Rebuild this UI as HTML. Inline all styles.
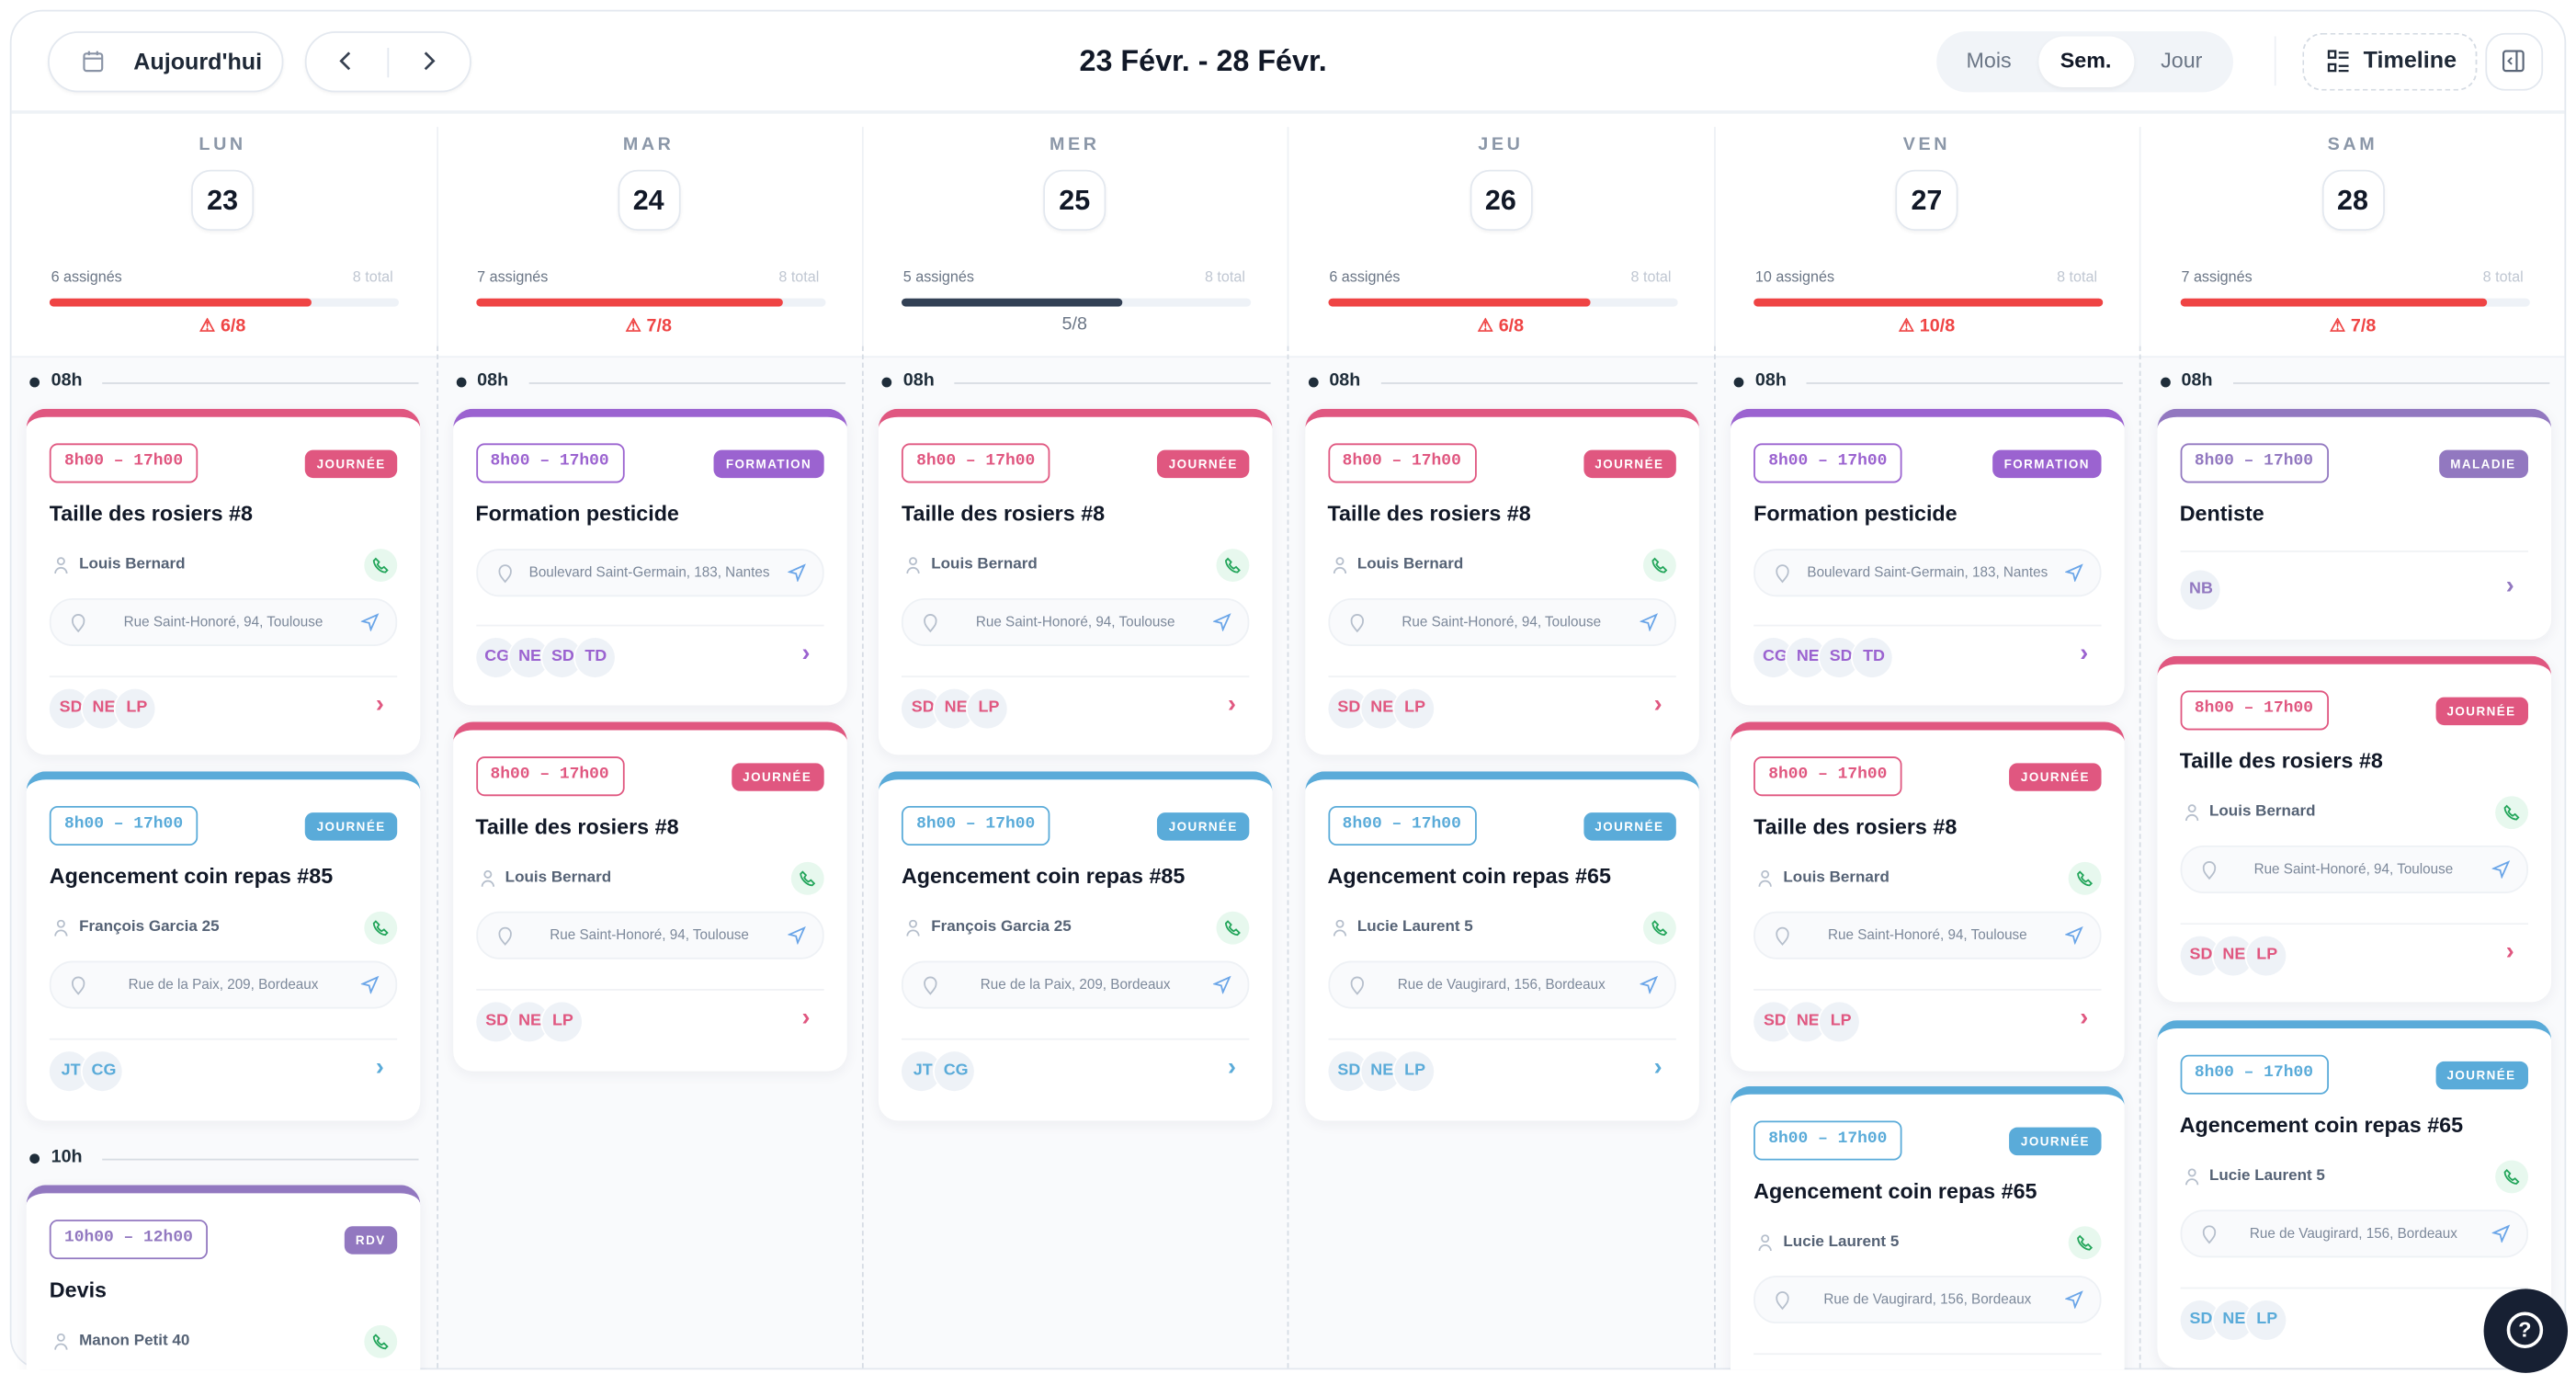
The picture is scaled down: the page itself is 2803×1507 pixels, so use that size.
<!DOCTYPE html>
<html><head><meta charset="utf-8">
<style>
*{box-sizing:border-box;margin:0;padding:0}
html,body{width:2803px;height:1507px;overflow:hidden;background:#fff;font-family:"Liberation Sans",sans-serif}
#w{position:absolute;left:0;top:0;width:1563px;height:840px;overflow:hidden;transform:scale(1.79335);transform-origin:0 0}
.abs{position:absolute}
.frame{position:absolute;left:6px;top:6px;width:1551px;height:825px;border:1px solid #e3e8ef;border-radius:20px;overflow:hidden;background:#fff}
.btn{position:absolute;top:19px;height:37px;border:1px solid #e3e8ef;border-radius:19px;background:#fff;box-shadow:0 1px 2px rgba(0,0,0,.05)}
.tb{position:absolute;left:0;right:0;top:0;height:62px;border-bottom:2px solid #eef2f6}
.body{position:absolute;left:0;right:0;top:209px;bottom:0;background:#f9fafc;border-top:1px solid #eef2f6}
.dn{position:absolute;width:258px;text-align:center;top:77px;font-size:11px;font-weight:bold;color:#8b97a8;letter-spacing:2px}
.dd{position:absolute;top:97px;width:38px;height:37px;border:1px solid #e3e8ef;border-radius:12px;text-align:center;line-height:36px;font-size:17px;font-weight:bold;color:#111827;box-shadow:0 1px 2px rgba(0,0,0,.05)}
.as{position:absolute;top:157px;font-size:9px;color:#6b7686}
.tt{position:absolute;top:157px;font-size:9px;color:#c0c7d2}
.bar{position:absolute;top:175px;height:5px;width:212px;border-radius:3px;background:#eef2f7;overflow:hidden}
.bar i{display:block;height:100%;background:#ef4444;border-radius:3px}
.wr{position:absolute;top:185px;width:258px;text-align:center;font-size:11px;font-weight:bold;color:#ef4444}
.vs{position:absolute;top:77px;height:135px;border-left:1px solid #eef1f5}
.vd{position:absolute;top:210px;border-left:1px dashed #d6dce4}
.hr{position:absolute;height:14px;font-size:11px;font-weight:bold;color:#1f2d3a}
.hr b{position:absolute;left:0;top:4px;width:6px;height:6px;border-radius:3px;background:#1f2d3a}
.hr span{position:absolute;left:13px;top:0}
.hr em{position:absolute;left:44px;right:0;top:7px;border-top:1px solid #d7dce3}
.card{position:absolute;width:239px;background:#fff;border-radius:12px;border-top:5px solid;box-shadow:0 2px 8px rgba(30,40,60,.06)}
.pk{border-color:#e05780;color:#e05780}.pu{border-color:#9b63d0;color:#9b63d0}.bl{border-color:#5aabd9;color:#5aabd9}.mv{border-color:#9278c0;color:#9278c0}
.tm{position:absolute;left:14px;top:16px;height:24px;padding:0 8px;border:1.5px solid;border-radius:5px;font-family:"Liberation Mono",monospace;font-size:10px;font-weight:bold;line-height:21px}
.bd{position:absolute;right:14px;top:20px;height:17px;padding:0 7px;border-radius:5px;font-size:7.5px;font-weight:bold;line-height:17px;letter-spacing:.8px;color:#fff}
.pk .bd{background:#e05780}.pu .bd{background:#9b63d0}.bl .bd{background:#5aabd9}.mv .bd{background:#9278c0}
.ti{position:absolute;left:14px;top:51px;font-size:13px;font-weight:bold;color:#111827}
.pr{position:absolute;left:14px;right:14px;top:80px;height:20px;font-size:9.5px;font-weight:bold;color:#556275;line-height:20px;padding-left:18px}
.pr .pi{position:absolute;left:3px;top:5px;width:8px;height:10px}
.ph{position:absolute;right:0;top:0;width:20px;height:20px;border-radius:10px;background:#e7f8ee}
.ph svg{position:absolute;left:5px;top:5px}
.ad{position:absolute;left:14px;right:14px;height:29px;border:1px solid #eef1f5;border-radius:14px;background:#f9fafc;font-size:8.5px;color:#7c889a;line-height:27px;text-align:center}
.ad svg{position:absolute;top:8px}
.sep{position:absolute;left:14px;right:14px;border-top:1px solid #f0f2f5}
.av{position:absolute;left:14px;height:24px}
.av span{float:left;width:24px;height:24px;border-radius:12px;background:#eef2f7;margin-right:-4px;font-size:10px;font-weight:bold;line-height:24px;text-align:center;overflow:hidden;position:relative;white-space:nowrap;text-indent:2px;box-shadow:-1px 0 0 #fff}
.ch{position:absolute;right:22px;font-size:15px;font-weight:bold}
</style></head><body><div id="w">
<div class="frame">
 <div class="tb"></div>
 <div class="body"></div>
</div>
<div class="btn" style="left:29px;width:143px"></div>
<svg class="abs" style="left:50px;top:30px" width="13" height="14" viewBox="0 0 13 14"><rect x="1" y="2.5" width="11" height="10.5" rx="1.5" fill="none" stroke="#8a94a6" stroke-width="1.2"/><line x1="1" y1="5.5" x2="12" y2="5.5" stroke="#8a94a6" stroke-width="1.2"/><line x1="4" y1="1" x2="4" y2="3.5" stroke="#8a94a6" stroke-width="1.2"/><line x1="9" y1="1" x2="9" y2="3.5" stroke="#8a94a6" stroke-width="1.2"/></svg>
<div class="abs" style="left:81px;top:29px;font-size:14px;font-weight:bold;color:#1f2937">Aujourd'hui</div>
<div class="btn" style="left:185px;width:101px"></div>
<div class="abs" style="left:235px;top:29px;height:18px;border-left:1px solid #e3e8ef"></div>
<svg class="abs" style="left:205px;top:31px" width="10" height="12"><polyline points="7,1 2,6 7,11" fill="none" stroke="#374151" stroke-width="1.5"/></svg>
<svg class="abs" style="left:255px;top:31px" width="10" height="12"><polyline points="3,1 8,6 3,11" fill="none" stroke="#374151" stroke-width="1.5"/></svg>
<div class="abs" style="left:560px;width:340px;text-align:center;top:27px;font-size:18px;font-weight:bold;color:#111827">23 Févr. - 28 Févr.</div>
<div class="abs" style="left:1175px;top:19px;width:180px;height:37px;border-radius:19px;background:#f1f4f8"></div>
<div class="abs" style="left:1237px;top:22px;width:58px;height:31px;border-radius:16px;background:#fff;box-shadow:0 1px 3px rgba(0,0,0,.06)"></div>
<div class="abs" style="left:1193px;top:29px;font-size:13px;color:#6b7686">Mois</div>
<div class="abs" style="left:1250px;top:29px;font-size:13px;font-weight:bold;color:#111827">Sem.</div>
<div class="abs" style="left:1311px;top:29px;font-size:13px;color:#6b7686">Jour</div>
<div class="abs" style="left:1380px;top:22px;height:30px;border-left:1px solid #eef1f5"></div>
<div class="abs" style="left:1397px;top:20px;width:106px;height:35px;border:1px dashed #d5dbe3;border-radius:12px"></div>
<svg class="abs" style="left:1412px;top:30px" width="14" height="14"><rect x="1" y="1" width="4" height="4" fill="none" stroke="#1f2937" stroke-width="1.3"/><rect x="1" y="9" width="4" height="4" fill="none" stroke="#1f2937" stroke-width="1.3"/><line x1="7" y1="2" x2="13" y2="2" stroke="#1f2937" stroke-width="1.3"/><line x1="7" y1="5" x2="13" y2="5" stroke="#1f2937" stroke-width="1.3"/><line x1="7" y1="10" x2="13" y2="10" stroke="#1f2937" stroke-width="1.3"/><line x1="7" y1="13" x2="13" y2="13" stroke="#1f2937" stroke-width="1.3"/></svg>
<div class="abs" style="left:1434px;top:28px;font-size:14px;font-weight:bold;color:#1f2937">Timeline</div>
<div class="abs" style="left:1508px;top:20px;width:35px;height:35px;border:1px solid #e3e8ef;border-radius:12px"></div>
<svg class="abs" style="left:1518px;top:30px" width="14" height="14"><rect x="1" y="1" width="12" height="12" rx="1.5" fill="none" stroke="#5a6678" stroke-width="1.2"/><line x1="9" y1="1" x2="9" y2="13" stroke="#5a6678" stroke-width="1.2"/><polyline points="6,5 4,7 6,9" fill="none" stroke="#5a6678" stroke-width="1.1"/></svg>

<div class="dn" style="left:6px;top:82px">LUN</div><div class="dd" style="left:116px;top:103px">23</div>
<div class="dn" style="left:264.5px;top:82px">MAR</div><div class="dd" style="left:374.5px;top:103px">24</div>
<div class="dn" style="left:523px;top:82px">MER</div><div class="dd" style="left:633px;top:103px">25</div>
<div class="dn" style="left:781.5px;top:82px">JEU</div><div class="dd" style="left:891.5px;top:103px">26</div>
<div class="dn" style="left:1040px;top:82px">VEN</div><div class="dd" style="left:1150px;top:103px">27</div>
<div class="dn" style="left:1298.5px;top:82px">SAM</div><div class="dd" style="left:1408.5px;top:103px">28</div>

<div class="as" style="left:31px;top:163px">6 assignés</div><div class="tt" style="left:214px;top:163px">8 total</div>
<div class="bar" style="left:30px;top:181px"><i style="width:75%"></i></div>
<div class="wr" style="left:6px;top:191px">⚠ 6/8</div>
<div class="as" style="left:289.5px;top:163px">7 assignés</div><div class="tt" style="left:472.5px;top:163px">8 total</div>
<div class="bar" style="left:288.5px;top:181px"><i style="width:88%"></i></div>
<div class="wr" style="left:264.5px;top:191px">⚠ 7/8</div>
<div class="as" style="left:548px;top:163px">5 assignés</div><div class="tt" style="left:731px;top:163px">8 total</div>
<div class="bar" style="left:547px;top:181px"><i style="width:63%;background:#334155"></i></div>
<div class="wr" style="left:523px;top:191px;color:#6b7686;font-weight:normal">5/8</div>
<div class="as" style="left:806.5px;top:163px">6 assignés</div><div class="tt" style="left:989.5px;top:163px">8 total</div>
<div class="bar" style="left:805.5px;top:181px"><i style="width:75%"></i></div>
<div class="wr" style="left:781.5px;top:191px">⚠ 6/8</div>
<div class="as" style="left:1065px;top:163px">10 assignés</div><div class="tt" style="left:1248px;top:163px">8 total</div>
<div class="bar" style="left:1064px;top:181px"><i style="width:100%"></i></div>
<div class="wr" style="left:1040px;top:191px">⚠ 10/8</div>
<div class="as" style="left:1323.5px;top:163px">7 assignés</div><div class="tt" style="left:1506.5px;top:163px">8 total</div>
<div class="bar" style="left:1322.5px;top:181px"><i style="width:88%"></i></div>
<div class="wr" style="left:1298.5px;top:191px">⚠ 7/8</div>

<div class="vs" style="left:265px"></div><div class="vs" style="left:523px"></div><div class="vs" style="left:781px"></div><div class="vs" style="left:1040px"></div><div class="vs" style="left:1298px"></div>
<div class="vd" style="left:265px;height:620px"></div><div class="vd" style="left:523px;height:620px"></div><div class="vd" style="left:781px;height:620px"></div><div class="vd" style="left:1040px;height:620px"></div><div class="vd" style="left:1298px;height:620px"></div>

<div class="hr" style="left:18px;top:225px;width:236px"><b></b><span>08h</span><em></em></div>
<div class="hr" style="left:276.5px;top:225px;width:236px"><b></b><span>08h</span><em></em></div>
<div class="hr" style="left:535px;top:225px;width:236px"><b></b><span>08h</span><em></em></div>
<div class="hr" style="left:793.5px;top:225px;width:236px"><b></b><span>08h</span><em></em></div>
<div class="hr" style="left:1052px;top:225px;width:236px"><b></b><span>08h</span><em></em></div>
<div class="hr" style="left:1310.5px;top:225px;width:236px"><b></b><span>08h</span><em></em></div>
<div class="hr" style="left:18px;top:696px;width:236px"><b></b><span>10h</span><em></em></div>

<div class="abs" style="left:0;top:0;width:1563px;height:831px;overflow:hidden">

<div class="card pk" style="left:16px;top:248px;height:210px"><div class="tm">8h00 – 17h00</div><div class="bd">JOURNÉE</div><div class="ti">Taille des rosiers #8</div>
<div class="pr"><svg class="pi" viewBox="0 0 8 10"><circle cx="4" cy="2.5" r="2" fill="none" stroke="#b6bfcc"/><path d="M.5 10a3.5 3.5 0 0 1 7 0" fill="none" stroke="#b6bfcc"/></svg>Louis Bernard<span class="ph"><svg width="10" height="10" viewBox="0 0 10 10"><path d="M2 1l2 2-1 1.5c.7 1.2 1.3 1.8 2.5 2.5L7 6l2 2-1.2 1.2C4.5 9 1 5.5.8 2.2z" fill="none" stroke="#22a55a" stroke-width="1"/></svg></span></div>
<div class="ad" style="top:110px"><svg style="left:12px" width="9" height="12"><path d="M4.5 11C1 7 1 6 1 4.5a3.5 3.5 0 0 1 7 0C8 6 8 7 4.5 11z" fill="none" stroke="#b6bfcc"/></svg>Rue Saint-Honoré, 94, Toulouse<svg style="right:10px" width="11" height="11"><path d="M10 1L1 5l4 1 1 4z" fill="none" stroke="#6aa5e8"/></svg></div>
<div class="sep" style="top:157px"></div><div class="av" style="top:165px"><span>SD</span><span>NE</span><span>LP</span></div><div class="ch" style="top:166px">›</div></div>

<div class="card bl" style="left:16px;top:468px;height:212px"><div class="tm">8h00 – 17h00</div><div class="bd">JOURNÉE</div><div class="ti">Agencement coin repas #85</div>
<div class="pr"><svg class="pi" viewBox="0 0 8 10"><circle cx="4" cy="2.5" r="2" fill="none" stroke="#b6bfcc"/><path d="M.5 10a3.5 3.5 0 0 1 7 0" fill="none" stroke="#b6bfcc"/></svg>François Garcia 25<span class="ph"><svg width="10" height="10" viewBox="0 0 10 10"><path d="M2 1l2 2-1 1.5c.7 1.2 1.3 1.8 2.5 2.5L7 6l2 2-1.2 1.2C4.5 9 1 5.5.8 2.2z" fill="none" stroke="#22a55a" stroke-width="1"/></svg></span></div>
<div class="ad" style="top:110px"><svg style="left:12px" width="9" height="12"><path d="M4.5 11C1 7 1 6 1 4.5a3.5 3.5 0 0 1 7 0C8 6 8 7 4.5 11z" fill="none" stroke="#b6bfcc"/></svg>Rue de la Paix, 209, Bordeaux<svg style="right:10px" width="11" height="11"><path d="M10 1L1 5l4 1 1 4z" fill="none" stroke="#6aa5e8"/></svg></div>
<div class="sep" style="top:157px"></div><div class="av" style="top:165px"><span>JT</span><span>CG</span></div><div class="ch" style="top:166px">›</div></div>

<div class="card mv" style="left:16px;top:719px;height:210px"><div class="tm">10h00 – 12h00</div><div class="bd">RDV</div><div class="ti">Devis</div>
<div class="pr"><svg class="pi" viewBox="0 0 8 10"><circle cx="4" cy="2.5" r="2" fill="none" stroke="#b6bfcc"/><path d="M.5 10a3.5 3.5 0 0 1 7 0" fill="none" stroke="#b6bfcc"/></svg>Manon Petit 40<span class="ph"><svg width="10" height="10" viewBox="0 0 10 10"><path d="M2 1l2 2-1 1.5c.7 1.2 1.3 1.8 2.5 2.5L7 6l2 2-1.2 1.2C4.5 9 1 5.5.8 2.2z" fill="none" stroke="#22a55a" stroke-width="1"/></svg></span></div></div>

<div class="card pu" style="left:274.5px;top:248px;height:180px"><div class="tm">8h00 – 17h00</div><div class="bd">FORMATION</div><div class="ti">Formation pesticide</div>
<div class="ad" style="top:80px"><svg style="left:12px" width="9" height="12"><path d="M4.5 11C1 7 1 6 1 4.5a3.5 3.5 0 0 1 7 0C8 6 8 7 4.5 11z" fill="none" stroke="#b6bfcc"/></svg>Boulevard Saint-Germain, 183, Nantes<svg style="right:10px" width="11" height="11"><path d="M10 1L1 5l4 1 1 4z" fill="none" stroke="#6aa5e8"/></svg></div>
<div class="sep" style="top:126px"></div><div class="av" style="top:134px"><span>CG</span><span>NE</span><span>SD</span><span>TD</span></div><div class="ch" style="top:135px">›</div></div>

<div class="card pk" style="left:274.5px;top:438px;height:212px"><div class="tm">8h00 – 17h00</div><div class="bd">JOURNÉE</div><div class="ti">Taille des rosiers #8</div>
<div class="pr"><svg class="pi" viewBox="0 0 8 10"><circle cx="4" cy="2.5" r="2" fill="none" stroke="#b6bfcc"/><path d="M.5 10a3.5 3.5 0 0 1 7 0" fill="none" stroke="#b6bfcc"/></svg>Louis Bernard<span class="ph"><svg width="10" height="10" viewBox="0 0 10 10"><path d="M2 1l2 2-1 1.5c.7 1.2 1.3 1.8 2.5 2.5L7 6l2 2-1.2 1.2C4.5 9 1 5.5.8 2.2z" fill="none" stroke="#22a55a" stroke-width="1"/></svg></span></div>
<div class="ad" style="top:110px"><svg style="left:12px" width="9" height="12"><path d="M4.5 11C1 7 1 6 1 4.5a3.5 3.5 0 0 1 7 0C8 6 8 7 4.5 11z" fill="none" stroke="#b6bfcc"/></svg>Rue Saint-Honoré, 94, Toulouse<svg style="right:10px" width="11" height="11"><path d="M10 1L1 5l4 1 1 4z" fill="none" stroke="#6aa5e8"/></svg></div>
<div class="sep" style="top:157px"></div><div class="av" style="top:165px"><span>SD</span><span>NE</span><span>LP</span></div><div class="ch" style="top:166px">›</div></div>

<div class="card pk" style="left:533px;top:248px;height:210px"><div class="tm">8h00 – 17h00</div><div class="bd">JOURNÉE</div><div class="ti">Taille des rosiers #8</div>
<div class="pr"><svg class="pi" viewBox="0 0 8 10"><circle cx="4" cy="2.5" r="2" fill="none" stroke="#b6bfcc"/><path d="M.5 10a3.5 3.5 0 0 1 7 0" fill="none" stroke="#b6bfcc"/></svg>Louis Bernard<span class="ph"><svg width="10" height="10" viewBox="0 0 10 10"><path d="M2 1l2 2-1 1.5c.7 1.2 1.3 1.8 2.5 2.5L7 6l2 2-1.2 1.2C4.5 9 1 5.5.8 2.2z" fill="none" stroke="#22a55a" stroke-width="1"/></svg></span></div>
<div class="ad" style="top:110px"><svg style="left:12px" width="9" height="12"><path d="M4.5 11C1 7 1 6 1 4.5a3.5 3.5 0 0 1 7 0C8 6 8 7 4.5 11z" fill="none" stroke="#b6bfcc"/></svg>Rue Saint-Honoré, 94, Toulouse<svg style="right:10px" width="11" height="11"><path d="M10 1L1 5l4 1 1 4z" fill="none" stroke="#6aa5e8"/></svg></div>
<div class="sep" style="top:157px"></div><div class="av" style="top:165px"><span>SD</span><span>NE</span><span>LP</span></div><div class="ch" style="top:166px">›</div></div>

<div class="card bl" style="left:533px;top:468px;height:212px"><div class="tm">8h00 – 17h00</div><div class="bd">JOURNÉE</div><div class="ti">Agencement coin repas #85</div>
<div class="pr"><svg class="pi" viewBox="0 0 8 10"><circle cx="4" cy="2.5" r="2" fill="none" stroke="#b6bfcc"/><path d="M.5 10a3.5 3.5 0 0 1 7 0" fill="none" stroke="#b6bfcc"/></svg>François Garcia 25<span class="ph"><svg width="10" height="10" viewBox="0 0 10 10"><path d="M2 1l2 2-1 1.5c.7 1.2 1.3 1.8 2.5 2.5L7 6l2 2-1.2 1.2C4.5 9 1 5.5.8 2.2z" fill="none" stroke="#22a55a" stroke-width="1"/></svg></span></div>
<div class="ad" style="top:110px"><svg style="left:12px" width="9" height="12"><path d="M4.5 11C1 7 1 6 1 4.5a3.5 3.5 0 0 1 7 0C8 6 8 7 4.5 11z" fill="none" stroke="#b6bfcc"/></svg>Rue de la Paix, 209, Bordeaux<svg style="right:10px" width="11" height="11"><path d="M10 1L1 5l4 1 1 4z" fill="none" stroke="#6aa5e8"/></svg></div>
<div class="sep" style="top:157px"></div><div class="av" style="top:165px"><span>JT</span><span>CG</span></div><div class="ch" style="top:166px">›</div></div>

<div class="card pk" style="left:791.5px;top:248px;height:210px"><div class="tm">8h00 – 17h00</div><div class="bd">JOURNÉE</div><div class="ti">Taille des rosiers #8</div>
<div class="pr"><svg class="pi" viewBox="0 0 8 10"><circle cx="4" cy="2.5" r="2" fill="none" stroke="#b6bfcc"/><path d="M.5 10a3.5 3.5 0 0 1 7 0" fill="none" stroke="#b6bfcc"/></svg>Louis Bernard<span class="ph"><svg width="10" height="10" viewBox="0 0 10 10"><path d="M2 1l2 2-1 1.5c.7 1.2 1.3 1.8 2.5 2.5L7 6l2 2-1.2 1.2C4.5 9 1 5.5.8 2.2z" fill="none" stroke="#22a55a" stroke-width="1"/></svg></span></div>
<div class="ad" style="top:110px"><svg style="left:12px" width="9" height="12"><path d="M4.5 11C1 7 1 6 1 4.5a3.5 3.5 0 0 1 7 0C8 6 8 7 4.5 11z" fill="none" stroke="#b6bfcc"/></svg>Rue Saint-Honoré, 94, Toulouse<svg style="right:10px" width="11" height="11"><path d="M10 1L1 5l4 1 1 4z" fill="none" stroke="#6aa5e8"/></svg></div>
<div class="sep" style="top:157px"></div><div class="av" style="top:165px"><span>SD</span><span>NE</span><span>LP</span></div><div class="ch" style="top:166px">›</div></div>

<div class="card bl" style="left:791.5px;top:468px;height:212px"><div class="tm">8h00 – 17h00</div><div class="bd">JOURNÉE</div><div class="ti">Agencement coin repas #65</div>
<div class="pr"><svg class="pi" viewBox="0 0 8 10"><circle cx="4" cy="2.5" r="2" fill="none" stroke="#b6bfcc"/><path d="M.5 10a3.5 3.5 0 0 1 7 0" fill="none" stroke="#b6bfcc"/></svg>Lucie Laurent 5<span class="ph"><svg width="10" height="10" viewBox="0 0 10 10"><path d="M2 1l2 2-1 1.5c.7 1.2 1.3 1.8 2.5 2.5L7 6l2 2-1.2 1.2C4.5 9 1 5.5.8 2.2z" fill="none" stroke="#22a55a" stroke-width="1"/></svg></span></div>
<div class="ad" style="top:110px"><svg style="left:12px" width="9" height="12"><path d="M4.5 11C1 7 1 6 1 4.5a3.5 3.5 0 0 1 7 0C8 6 8 7 4.5 11z" fill="none" stroke="#b6bfcc"/></svg>Rue de Vaugirard, 156, Bordeaux<svg style="right:10px" width="11" height="11"><path d="M10 1L1 5l4 1 1 4z" fill="none" stroke="#6aa5e8"/></svg></div>
<div class="sep" style="top:157px"></div><div class="av" style="top:165px"><span>SD</span><span>NE</span><span>LP</span></div><div class="ch" style="top:166px">›</div></div>

<div class="card pu" style="left:1050px;top:248px;height:180px"><div class="tm">8h00 – 17h00</div><div class="bd">FORMATION</div><div class="ti">Formation pesticide</div>
<div class="ad" style="top:80px"><svg style="left:12px" width="9" height="12"><path d="M4.5 11C1 7 1 6 1 4.5a3.5 3.5 0 0 1 7 0C8 6 8 7 4.5 11z" fill="none" stroke="#b6bfcc"/></svg>Boulevard Saint-Germain, 183, Nantes<svg style="right:10px" width="11" height="11"><path d="M10 1L1 5l4 1 1 4z" fill="none" stroke="#6aa5e8"/></svg></div>
<div class="sep" style="top:126px"></div><div class="av" style="top:134px"><span>CG</span><span>NE</span><span>SD</span><span>TD</span></div><div class="ch" style="top:135px">›</div></div>

<div class="card pk" style="left:1050px;top:438px;height:212px"><div class="tm">8h00 – 17h00</div><div class="bd">JOURNÉE</div><div class="ti">Taille des rosiers #8</div>
<div class="pr"><svg class="pi" viewBox="0 0 8 10"><circle cx="4" cy="2.5" r="2" fill="none" stroke="#b6bfcc"/><path d="M.5 10a3.5 3.5 0 0 1 7 0" fill="none" stroke="#b6bfcc"/></svg>Louis Bernard<span class="ph"><svg width="10" height="10" viewBox="0 0 10 10"><path d="M2 1l2 2-1 1.5c.7 1.2 1.3 1.8 2.5 2.5L7 6l2 2-1.2 1.2C4.5 9 1 5.5.8 2.2z" fill="none" stroke="#22a55a" stroke-width="1"/></svg></span></div>
<div class="ad" style="top:110px"><svg style="left:12px" width="9" height="12"><path d="M4.5 11C1 7 1 6 1 4.5a3.5 3.5 0 0 1 7 0C8 6 8 7 4.5 11z" fill="none" stroke="#b6bfcc"/></svg>Rue Saint-Honoré, 94, Toulouse<svg style="right:10px" width="11" height="11"><path d="M10 1L1 5l4 1 1 4z" fill="none" stroke="#6aa5e8"/></svg></div>
<div class="sep" style="top:157px"></div><div class="av" style="top:165px"><span>SD</span><span>NE</span><span>LP</span></div><div class="ch" style="top:166px">›</div></div>

<div class="card bl" style="left:1050px;top:659px;height:212px"><div class="tm">8h00 – 17h00</div><div class="bd">JOURNÉE</div><div class="ti">Agencement coin repas #65</div>
<div class="pr"><svg class="pi" viewBox="0 0 8 10"><circle cx="4" cy="2.5" r="2" fill="none" stroke="#b6bfcc"/><path d="M.5 10a3.5 3.5 0 0 1 7 0" fill="none" stroke="#b6bfcc"/></svg>Lucie Laurent 5<span class="ph"><svg width="10" height="10" viewBox="0 0 10 10"><path d="M2 1l2 2-1 1.5c.7 1.2 1.3 1.8 2.5 2.5L7 6l2 2-1.2 1.2C4.5 9 1 5.5.8 2.2z" fill="none" stroke="#22a55a" stroke-width="1"/></svg></span></div>
<div class="ad" style="top:110px"><svg style="left:12px" width="9" height="12"><path d="M4.5 11C1 7 1 6 1 4.5a3.5 3.5 0 0 1 7 0C8 6 8 7 4.5 11z" fill="none" stroke="#b6bfcc"/></svg>Rue de Vaugirard, 156, Bordeaux<svg style="right:10px" width="11" height="11"><path d="M10 1L1 5l4 1 1 4z" fill="none" stroke="#6aa5e8"/></svg></div>
<div class="sep" style="top:157px"></div></div>

<div class="card mv" style="left:1308.5px;top:248px;height:140px"><div class="tm">8h00 – 17h00</div><div class="bd">MALADIE</div><div class="ti">Dentiste</div>
<div class="sep" style="top:81px"></div><div class="av" style="top:93px"><span>NB</span></div><div class="ch" style="top:94px">›</div></div>

<div class="card pk" style="left:1308.5px;top:398px;height:210px"><div class="tm">8h00 – 17h00</div><div class="bd">JOURNÉE</div><div class="ti">Taille des rosiers #8</div>
<div class="pr"><svg class="pi" viewBox="0 0 8 10"><circle cx="4" cy="2.5" r="2" fill="none" stroke="#b6bfcc"/><path d="M.5 10a3.5 3.5 0 0 1 7 0" fill="none" stroke="#b6bfcc"/></svg>Louis Bernard<span class="ph"><svg width="10" height="10" viewBox="0 0 10 10"><path d="M2 1l2 2-1 1.5c.7 1.2 1.3 1.8 2.5 2.5L7 6l2 2-1.2 1.2C4.5 9 1 5.5.8 2.2z" fill="none" stroke="#22a55a" stroke-width="1"/></svg></span></div>
<div class="ad" style="top:110px"><svg style="left:12px" width="9" height="12"><path d="M4.5 11C1 7 1 6 1 4.5a3.5 3.5 0 0 1 7 0C8 6 8 7 4.5 11z" fill="none" stroke="#b6bfcc"/></svg>Rue Saint-Honoré, 94, Toulouse<svg style="right:10px" width="11" height="11"><path d="M10 1L1 5l4 1 1 4z" fill="none" stroke="#6aa5e8"/></svg></div>
<div class="sep" style="top:157px"></div><div class="av" style="top:165px"><span>SD</span><span>NE</span><span>LP</span></div><div class="ch" style="top:166px">›</div></div>

<div class="card bl" style="left:1308.5px;top:619px;height:211px"><div class="tm">8h00 – 17h00</div><div class="bd">JOURNÉE</div><div class="ti">Agencement coin repas #65</div>
<div class="pr"><svg class="pi" viewBox="0 0 8 10"><circle cx="4" cy="2.5" r="2" fill="none" stroke="#b6bfcc"/><path d="M.5 10a3.5 3.5 0 0 1 7 0" fill="none" stroke="#b6bfcc"/></svg>Lucie Laurent 5<span class="ph"><svg width="10" height="10" viewBox="0 0 10 10"><path d="M2 1l2 2-1 1.5c.7 1.2 1.3 1.8 2.5 2.5L7 6l2 2-1.2 1.2C4.5 9 1 5.5.8 2.2z" fill="none" stroke="#22a55a" stroke-width="1"/></svg></span></div>
<div class="ad" style="top:110px"><svg style="left:12px" width="9" height="12"><path d="M4.5 11C1 7 1 6 1 4.5a3.5 3.5 0 0 1 7 0C8 6 8 7 4.5 11z" fill="none" stroke="#b6bfcc"/></svg>Rue de Vaugirard, 156, Bordeaux<svg style="right:10px" width="11" height="11"><path d="M10 1L1 5l4 1 1 4z" fill="none" stroke="#6aa5e8"/></svg></div>
<div class="sep" style="top:157px"></div><div class="av" style="top:165px"><span>SD</span><span>NE</span><span>LP</span></div></div>
</div>

<div class="abs" style="left:1507px;top:782px;width:51px;height:51px;border-radius:26px;background:#172033"></div>
<div class="abs" style="left:1521px;top:796px;width:22px;height:22px;border:2px solid #fff;border-radius:11px;color:#fff;font-size:13px;font-weight:bold;text-align:center;line-height:18px">?</div>
</div></body></html>
